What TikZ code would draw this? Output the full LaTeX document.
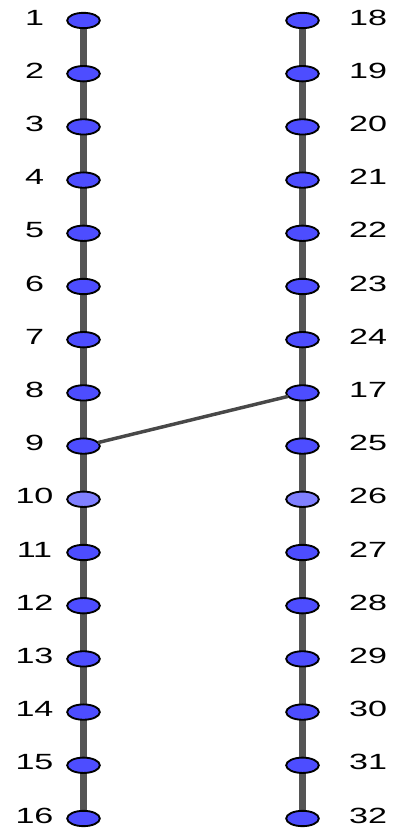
\documentclass[tikz,border=0pt]{standalone}
\usepackage{fontspec}
\setmainfont{Liberation Sans}[FakeStretch=1.55]
\usetikzlibrary{positioning, shapes.geometric, backgrounds}

\definecolor{vblue}{RGB}{77,77,255}
\definecolor{vpale}{RGB}{128,128,255}
\definecolor{edgegray}{RGB}{85,85,85}

\begin{document}
\begin{tikzpicture}[
x=0.75pt, y=0.75pt,
font=\fontsize{16.5}{19}\selectfont,
vtx/.style={ellipse, draw, line width=1.4pt, fill=vblue, minimum width=24.5pt, minimum height=11.5pt, inner sep=0pt, outer sep=0pt},
pale/.style={fill=vpale},
lnum/.style={anchor=center, xshift=-24.5pt, yshift=2.25pt, inner sep=0pt},
rnum/.style={anchor=center, xshift=37pt, yshift=2.25pt, inner sep=0pt},
chain/.style={draw=edgegray, line width=5pt},
link/.style={draw=edgegray!85!black, line width=2.6pt},
node distance=28.4pt
]
\useasboundingbox (0,0) rectangle (395,829);

% --- Colonne gauche ---
\node[vtx, label={[lnum]left:1}] (n1) at (83.5,808.5) {};
\node[vtx, below=of n1, label={[lnum]left:2}] (n2) {};
\node[vtx, below=of n2, label={[lnum]left:3}] (n3) {};
\node[vtx, below=of n3, label={[lnum]left:4}] (n4) {};
\node[vtx, below=of n4, label={[lnum]left:5}] (n5) {};
\node[vtx, below=of n5, label={[lnum]left:6}] (n6) {};
\node[vtx, below=of n6, label={[lnum]left:7}] (n7) {};
\node[vtx, below=of n7, label={[lnum]left:8}] (n8) {};
\node[vtx, below=of n8, label={[lnum]left:9}] (n9) {};
\node[vtx, pale, below=of n9, label={[lnum]left:10}] (n10) {};
\node[vtx, below=of n10, label={[lnum]left:11}] (n11) {};
\node[vtx, below=of n11, label={[lnum]left:12}] (n12) {};
\node[vtx, below=of n12, label={[lnum]left:13}] (n13) {};
\node[vtx, below=of n13, label={[lnum]left:14}] (n14) {};
\node[vtx, below=of n14, label={[lnum]left:15}] (n15) {};
\node[vtx, below=of n15, label={[lnum]left:16}] (n16) {};

% --- Colonne droite ---
\node[vtx, label={[rnum]right:18}] (n18) at (302.5,808.5) {};
\node[vtx, below=of n18, label={[rnum]right:19}] (n19) {};
\node[vtx, below=of n19, label={[rnum]right:20}] (n20) {};
\node[vtx, below=of n20, label={[rnum]right:21}] (n21) {};
\node[vtx, below=of n21, label={[rnum]right:22}] (n22) {};
\node[vtx, below=of n22, label={[rnum]right:23}] (n23) {};
\node[vtx, below=of n23, label={[rnum]right:24}] (n24) {};
\node[vtx, below=of n24, label={[rnum]right:17}] (n17) {};
\node[vtx, below=of n17, label={[rnum]right:25}] (n25) {};
\node[vtx, pale, below=of n25, label={[rnum]right:26}] (n26) {};
\node[vtx, below=of n26, label={[rnum]right:27}] (n27) {};
\node[vtx, below=of n27, label={[rnum]right:28}] (n28) {};
\node[vtx, below=of n28, label={[rnum]right:29}] (n29) {};
\node[vtx, below=of n29, label={[rnum]right:30}] (n30) {};
\node[vtx, below=of n30, label={[rnum]right:31}] (n31) {};
\node[vtx, below=of n31, label={[rnum]right:32}] (n32) {};

% --- Chaines ---
\begin{scope}[on background layer]
\draw[chain] (n1) -- (n2) -- (n3) -- (n4) -- (n5) -- (n6) -- (n7) -- (n8) -- (n9) -- (n10) -- (n11) -- (n12) -- (n13) -- (n14) -- (n15) -- (n16);
\draw[chain] (n18) -- (n19) -- (n20) -- (n21) -- (n22) -- (n23) -- (n24) -- (n17) -- (n25) -- (n26) -- (n27) -- (n28) -- (n29) -- (n30) -- (n31) -- (n32);
\end{scope}

% --- Liaison ---
\draw[link] (n9) -- (n17);

\end{tikzpicture}
\end{document}
